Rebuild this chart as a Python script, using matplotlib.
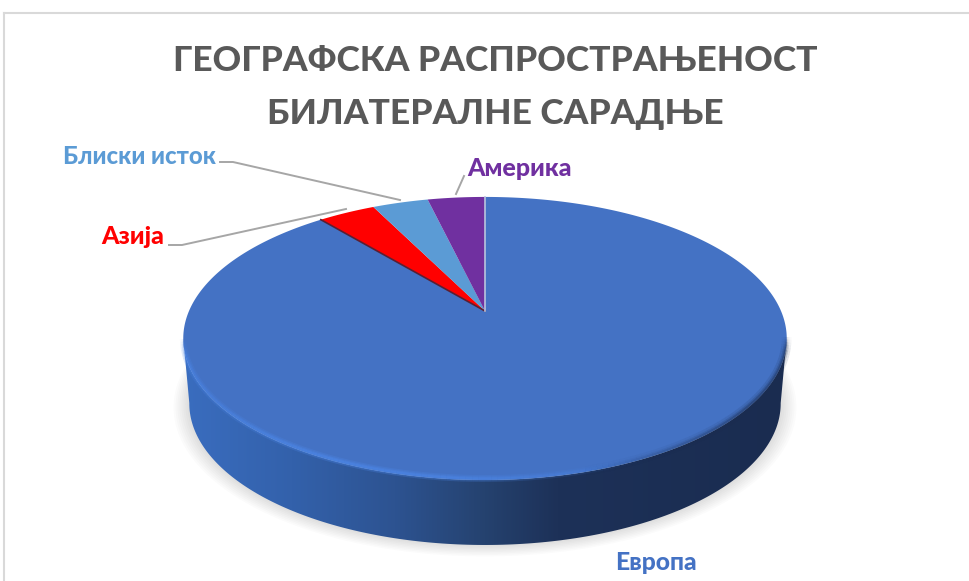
import numpy as np
import matplotlib
matplotlib.use('Agg')
import matplotlib.pyplot as plt
from matplotlib.collections import LineCollection
from matplotlib.colors import LinearSegmentedColormap, to_rgb
from matplotlib.patches import Polygon

plt.rcParams['font.family'] = ['Lato', 'Open Sans', 'DejaVu Sans']

title_lines = ["ГЕОГРАФСКА РАСПРОСТРАЊЕНОСТ", "БИЛАТЕРАЛНЕ САРАДЊЕ"]
regions = ["Европа", "Азија", "Блиски исток", "Америка"]
shares = [89.0, 3.7, 3.6, 3.7]
colors = ["#4472c4", "#ff0000", "#5b9bd5", "#7030a0"]

# pie geometry in screen pixels, tilted with a simple perspective
cx, cy = 485, 311
rx, ry, tilt = 296, 136.2, 0.194
depth = 65
# angles where the tilted disc is widest
left_deg, right_deg = 191, 349


def project(deg):
    t = np.radians(deg)
    w = 1 + tilt * np.sin(t)
    return cx + rx * np.cos(t) / w, cy - ry * np.sin(t) / w


def wall_bottom(deg):
    x, y = project(deg)
    return cx + (x - cx) * 0.98, y + depth


def rim_lines(color, alpha, width, shift=0):
    ang = np.linspace(left_deg, right_deg, 159)
    ex, ey = project(ang)
    pts = np.c_[ex, ey - shift].reshape(-1, 1, 2)
    segs = np.concatenate([pts[:-1], pts[1:]], axis=1)
    rgba = np.zeros((len(segs), 4))
    rgba[:, :3] = to_rgb(color)
    rgba[:, 3] = alpha(ang[:-1])
    ax.add_collection(LineCollection(segs, colors=rgba, linewidths=width, zorder=4))


fig = plt.figure(figsize=(9.69, 5.81), dpi=100)
ax = fig.add_axes([0, 0, 1, 1])
ax.set_xlim(0, 969)
ax.set_ylim(581, 0)
ax.axis('off')

# chart frame
ax.plot([4, 4], [581, 13], color="#d9d9d9", lw=1.5)
ax.plot([4, 969], [13, 13], color="#d9d9d9", lw=1.5)

# soft shadow under the wall
around = np.linspace(0, 360, 361)
sx, sy = wall_bottom(around)
for grow in range(16, 0, -2):
    scale = 1 + grow / 300
    ax.fill(cx + (sx - cx) * scale, (sy - 405) * scale + 405 + grow * 0.25,
            color="black", alpha=0.016, lw=0)

# side wall with horizontal gradient
front = np.linspace(left_deg, right_deg, 200)
tx, ty = project(front)
bx, by = wall_bottom(front)
wall = Polygon(np.r_[np.c_[tx, ty], np.c_[bx, by][::-1]], closed=True, fc="none", ec="none")
ax.add_patch(wall)
wall_cmap = LinearSegmentedColormap.from_list("wall", [
    (0.0, "#3a6dbf"), (0.18, "#3361ab"), (0.35, "#2d5391"),
    (0.5, "#25426f"), (0.62, "#1d3158"), (1.0, "#1a2c50")])
img = ax.imshow(np.linspace(0, 1, 256)[None, :], extent=[183, 787, 560, 190],
                cmap=wall_cmap, aspect='auto', zorder=2)
img.set_clip_path(wall)
ax.set_xlim(0, 969)
ax.set_ylim(581, 0)

# top face, slices run clockwise from 12 o'clock
start = 90
for name, value, color in zip(regions, shares, colors):
    stop = start - value / sum(shares) * 360
    arc = np.linspace(start, stop, max(int(start - stop) * 2, 8))
    px, py = project(arc)
    ax.fill(np.r_[cx, px], np.r_[cy, py], color=color, lw=0, zorder=3)
    if name == "Азија":
        ax.plot([cx, px[0]], [cy, py[0]], color="#5a1f33", lw=1.2, zorder=4)
    if name == "Европа":
        ax.plot([cx, px[0]], [cy, py[0]], color="#b9c4de", lw=1.2, zorder=5)
    start = stop

# bevel: light rim on the left, dark soft rim on the right, both fade out at the ends
light = lambda a: np.clip((a - 191) / 8, 0, 1) * (np.clip(1 - (a - 191) / 115, 0, 1) * 0.4 + np.clip((a - 215) / 30, 0, 1) * np.clip((295 - a) / 30, 0, 1) * 0.3)
shade = lambda a: np.clip((a - 285) / 35, 0, 1) * np.clip((349 - a) / 6, 0, 1)
for width, k in [(5, 0.35), (3, 0.5), (1.5, 0.6)]:
    rim_lines("#4c86e6", lambda a: light(a) * k * 1.6, width, shift=1.5)
for width, k in [(7, 0.12), (4, 0.2), (2, 0.35)]:
    rim_lines("#1a2c50", lambda a: shade(a) * k, width, shift=1)

# title
ax.text(495, 61, title_lines[0], ha='center', va='center', fontsize=25.5, fontweight='black', color="#595959")
ax.text(495, 114, title_lines[1], ha='center', va='center', fontsize=25.5, fontweight='black', color="#595959")

# leader lines
leader = "#a6a6a6"
ax.plot([220, 233, 400], [162, 162, 200], color=leader, lw=1.4, zorder=6)
ax.plot([169, 182, 346], [245, 245, 209], color=leader, lw=1.4, zorder=6)
ax.plot([456, 464], [194, 176], color=leader, lw=1.4, zorder=6)

# data labels
ax.text(140, 156, regions[2], ha='center', va='center', fontsize=17.2, fontweight='black', color=colors[2])
ax.text(132.5, 237, regions[1], ha='center', va='center', fontsize=18, fontweight='black', color=colors[1])
ax.text(520, 169, regions[3], ha='center', va='center', fontsize=18, fontweight='black', color=colors[3])
ax.text(655.5, 563, regions[0], ha='center', va='center', fontsize=17.8, fontweight='black', color=colors[0])

fig.savefig("out.png", dpi=100)
